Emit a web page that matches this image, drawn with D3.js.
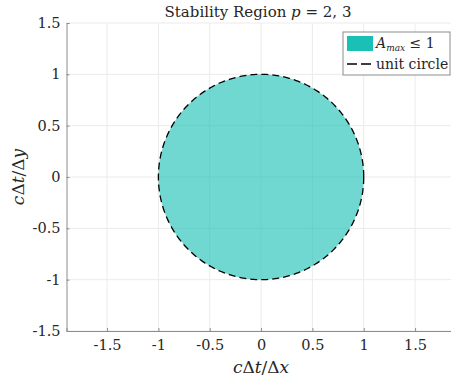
<!DOCTYPE html>
<html>
<head>
<meta charset="utf-8">
<script src="https://cdn.jsdelivr.net/npm/d3@7"></script>
<style>
  body { margin: 0; background: #fff; }
  svg text { font-family: "DejaVu Serif", "Liberation Serif", "Times New Roman", serif; fill: #262626; }
</style>
</head>
<body>
<div id="chart"></div>
<script>
// ticks and ranges
const xTicks = [-1.5, -1, -0.5, 0, 0.5, 1, 1.5];
const yTicks = [-1.5, -1, -0.5, 0, 0.5, 1, 1.5];
const xDomain = [-1.895, 1.85];
const yDomain = [-1.5, 1.5];
const radius = 1;      // stability region = unit disc
const nCircle = 361;   // points along the boundary
const legendLabels = ['A', 'unit circle'];

const width = 451, height = 381;
const margin = {top: 23, right: 0, bottom: 50, left: 66.5};

const svg = d3.select('#chart').append('svg')
    .attr('width', width).attr('height', height);

const x = d3.scaleLinear().domain(xDomain).range([margin.left, width - margin.right]);
const y = d3.scaleLinear().domain(yDomain).range([height - margin.bottom, margin.top]);

// grid
svg.append('g').selectAll('line').data(xTicks).join('line')
    .attr('x1', d => x(d)).attr('x2', d => x(d))
    .attr('y1', y(yDomain[0])).attr('y2', y(yDomain[1]))
    .attr('stroke', '#ebebeb').attr('stroke-width', 1);
svg.append('g').selectAll('line').data(yTicks).join('line')
    .attr('y1', d => y(d)).attr('y2', d => y(d))
    .attr('x1', x(xDomain[0])).attr('x2', x(xDomain[1]))
    .attr('stroke', '#ebebeb').attr('stroke-width', 1);

// circle points
const pts = d3.range(nCircle).map(i => {
    const t = 2 * Math.PI * i / (nCircle - 1);
    return [radius * Math.cos(t), radius * Math.sin(t)];
});
const line = d3.line().x(d => x(d[0])).y(d => y(d[1]));

svg.append('path').datum(pts)
    .attr('d', line)
    .attr('fill', '#1abfb5')
    .attr('fill-opacity', 0.62)
    .attr('stroke', 'none');

svg.append('path').datum(pts)
    .attr('d', line)
    .attr('fill', 'none')
    .attr('stroke', '#000')
    .attr('stroke-width', 1.3)
    .attr('stroke-dasharray', '7,4');

// axes (ticks inward, no box)
const xAxis = svg.append('g')
    .attr('transform', 'translate(0,' + y(yDomain[0]) + ')')
    .call(d3.axisBottom(x).tickValues(xTicks).tickSize(-3).tickPadding(9)
        .tickFormat(d => String(d)));
const yAxis = svg.append('g')
    .attr('transform', 'translate(' + x(xDomain[0]) + ',0)')
    .call(d3.axisLeft(y).tickValues(yTicks).tickSize(-3).tickPadding(6)
        .tickFormat(d => String(d)));
[xAxis, yAxis].forEach(a => {
    a.attr('font-family', null);
    a.select('.domain').attr('stroke', '#8c8c8c');
    a.selectAll('.tick line').attr('stroke', '#8c8c8c');
    a.selectAll('.tick text').style('font-size', '14.5px').attr('fill', '#262626');
});

// title
const title = svg.append('text')
    .attr('x', 258).attr('y', 17)
    .attr('text-anchor', 'middle')
    .style('font-size', '15px');
title.append('tspan').text('Stability Region ');
title.append('tspan').style('font-style', 'italic').text('p');
title.append('tspan').text(' = 2, 3');

// axis labels
const xl = svg.append('text')
    .attr('x', x(0)).attr('y', 373)
    .attr('text-anchor', 'middle')
    .style('font-size', '17px');
xl.append('tspan').style('font-style', 'italic').text('c');
xl.append('tspan').text('Δ');
xl.append('tspan').style('font-style', 'italic').text('t');
xl.append('tspan').text('/Δ');
xl.append('tspan').style('font-style', 'italic').text('x');

const yl = svg.append('text')
    .attr('transform', 'translate(24,' + y(0) + ') rotate(-90)')
    .attr('text-anchor', 'middle')
    .style('font-size', '17px');
yl.append('tspan').style('font-style', 'italic').text('c');
yl.append('tspan').text('Δ');
yl.append('tspan').style('font-style', 'italic').text('t');
yl.append('tspan').text('/Δ');
yl.append('tspan').style('font-style', 'italic').text('y');

// legend
const lg = svg.append('g').attr('transform', 'translate(343,32)');
lg.append('rect').attr('x', 0).attr('y', 0).attr('width', 107).attr('height', 43)
    .attr('fill', '#fff').attr('stroke', '#8c8c8c').attr('stroke-width', 1);
lg.append('rect').attr('x', 4).attr('y', 4).attr('width', 26).attr('height', 15)
    .attr('fill', '#1abfb5');
const l1 = lg.append('text').attr('x', 33).attr('y', 16).style('font-size', '14px');
l1.append('tspan').style('font-style', 'italic').text(legendLabels[0]);
l1.append('tspan').style('font-style', 'italic').style('font-size', '9px').attr('dy', 3).text('max');
l1.append('tspan').attr('dy', -3).text(' ≤ 1');
lg.append('line').attr('x1', 4).attr('x2', 28).attr('y1', 32).attr('y2', 32)
    .attr('stroke', '#000').attr('stroke-width', 1.3).attr('stroke-dasharray', '10,4');
lg.append('text').attr('x', 33).attr('y', 37).style('font-size', '14px').text(legendLabels[1]);
</script>
</body>
</html>
